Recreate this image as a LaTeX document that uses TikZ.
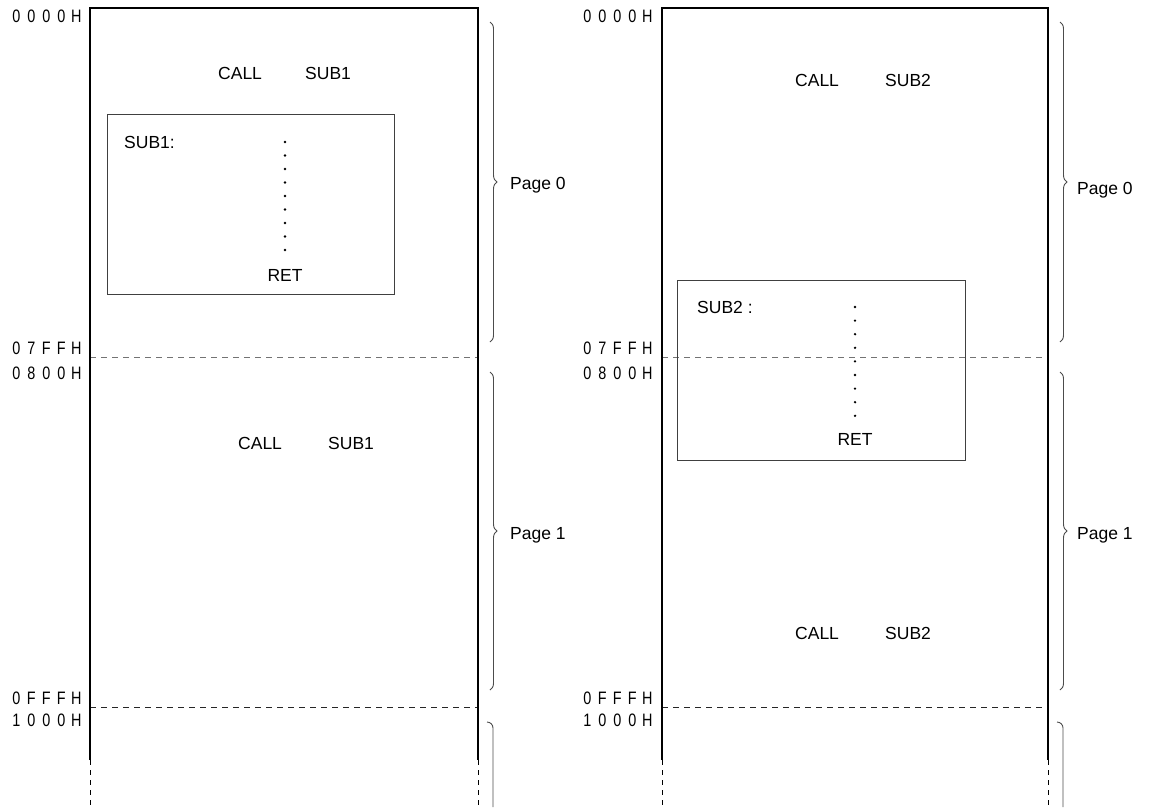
\documentclass[tikz,border=0pt]{standalone}
\usepackage{fontspec}
\setmainfont{Liberation Sans}
\newfontfamily\addrfont[FakeStretch=0.8]{Liberation Sans}
\usetikzlibrary{decorations.pathreplacing}
\newcommand\ac[1]{\makebox[15pt]{#1}}
\tikzset{
  wall/.style={line width=2.8pt, black},
  wallcont/.style={line width=0.9pt, black, dash pattern=on 5pt off 5pt},
  pageline/.style={line width=1pt, dash pattern=on 6pt off 5pt},
  subbox/.style={draw=black!75, line width=1pt},
  txt/.style={font=\fontsize{17.5pt}{20pt}\selectfont, inner sep=0pt},
  addr/.style={font=\addrfont\fontsize{18pt}{18pt}\selectfont, inner sep=0pt, anchor=east},
  pbrace/.style={draw=black!70, line width=0.9pt, decorate, decoration={brace, amplitude=7pt}},
  dotmark/.style={fill=black, circle, inner sep=0pt, minimum size=2.6pt},
}
\begin{document}
\begin{tikzpicture}[x=1pt,y=-1pt]
\useasboundingbox (0,0) rectangle (1151,807);

% ---- left panel ----
\draw[pageline, black!55] (90,357) -- (478,357);
\draw[pageline, black!85] (90,707) -- (478,707);
\draw[wall] (90,760) -- (90,8) -- (478,8) -- (478,760);
\draw[wallcont] (90,760) -- (90,807);
\draw[wallcont] (478,760) -- (478,807);

\node[addr] (a1) at (84,16) {\ac0\ac0\ac0\ac0\ac H};
\node[addr] (a2) at (84,348) {\ac0\ac7\ac F\ac F\ac H};
\node[addr] (a3) at (84,373) {\ac0\ac8\ac0\ac0\ac H};
\node[addr] (a4) at (84,698) {\ac0\ac F\ac F\ac F\ac H};
\node[addr] (a5) at (84,720) {\ac1\ac0\ac0\ac0\ac H};

\node[txt, anchor=west] (c1) at (218,73) {CALL};
\node[txt, anchor=west] (s1) at (305,73) {SUB1};
\node[txt, anchor=west] (c2) at (238,443) {CALL};
\node[txt, anchor=west] (s2) at (328,443) {SUB1};

\draw[subbox] (107,114) rectangle (394,294);
\node[txt, anchor=west] (sub1) at (124,142) {SUB1:};
\foreach \i in {0,...,8} \node[dotmark] at (285,142+13.5*\i) {};
\node[txt] (ret1) at (285,275) {RET};

\draw[pbrace] (490,22) -- (490,342);
\node[txt, anchor=west] (p0l) at (510,185) {Page 0};
\draw[pbrace] (490,372) -- (490,690);
\node[txt, anchor=west] (p1l) at (510,535) {Page 1};
\draw[draw=black!70, line width=0.9pt] (487,722) to[out=0,in=90] (493,728) -- (493,807);

% ---- right panel ----
\draw[pageline, black!55] (662,357) -- (1048,357);
\draw[pageline, black!85] (662,707) -- (1048,707);
\draw[wall] (662,760) -- (662,8) -- (1048,8) -- (1048,760);
\draw[wallcont] (662,760) -- (662,807);
\draw[wallcont] (1048,760) -- (1048,807);

\node[addr] (b1) at (655,16) {\ac0\ac0\ac0\ac0\ac H};
\node[addr] (b2) at (655,348) {\ac0\ac7\ac F\ac F\ac H};
\node[addr] (b3) at (655,373) {\ac0\ac8\ac0\ac0\ac H};
\node[addr] (b4) at (655,698) {\ac0\ac F\ac F\ac F\ac H};
\node[addr] (b5) at (655,720) {\ac1\ac0\ac0\ac0\ac H};

\node[txt, anchor=west] (c3) at (795,80) {CALL};
\node[txt, anchor=west] (s3) at (885,80) {SUB2};
\node[txt, anchor=west] (c4) at (795,633) {CALL};
\node[txt, anchor=west] (s4) at (885,633) {SUB2};

\draw[subbox] (677,280) rectangle (965,460);
\node[txt, anchor=west] (sub2) at (697,307) {SUB2 :};
\foreach \i in {0,...,8} \node[dotmark] at (855,307+13.6*\i) {};
\node[txt] (ret2) at (855,439) {RET};

\draw[pbrace] (1060,22) -- (1060,342);
\node[txt, anchor=west] (p0r) at (1077,190) {Page 0};
\draw[pbrace] (1060,372) -- (1060,690);
\node[txt, anchor=west] (p1r) at (1077,535) {Page 1};
\draw[draw=black!70, line width=0.9pt] (1057,722) to[out=0,in=90] (1063,728) -- (1063,807);
\end{tikzpicture}
\end{document}
